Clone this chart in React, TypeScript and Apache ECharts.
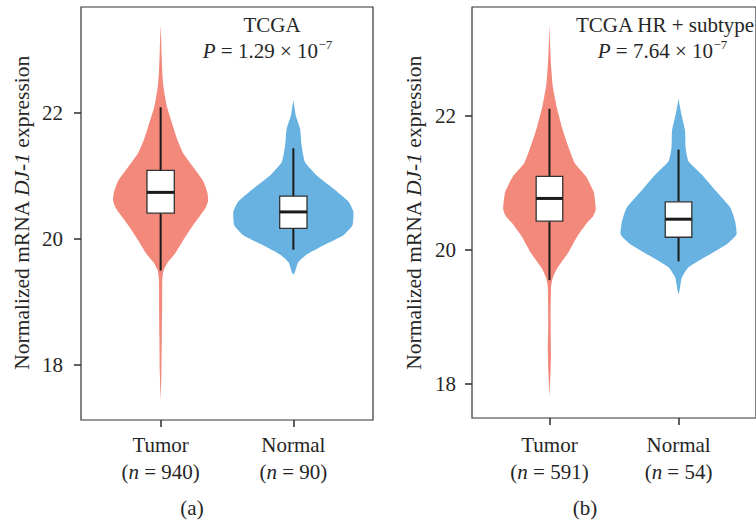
import React, { useEffect, useRef } from "react";
import * as echarts from "echarts";

// ---- data ----
const groups = ["Tumor", "Normal"];
const countsA = [940, 90];
const countsB = [591, 54];
const pValueA = "1.29";
const pValueB = "7.64";
const yTicks = [18, 20, 22];

// box stats: [whiskerLow, Q1, median, Q3, whiskerHigh]
const boxTumorA = [19.5, 20.41, 20.74, 21.09, 22.09];
const boxNormalA = [19.83, 20.17, 20.43, 20.68, 21.44];
const boxTumorB = [19.55, 20.43, 20.77, 21.1, 22.11];
const boxNormalB = [19.83, 20.19, 20.46, 20.72, 21.5];

// violin profiles: [value, relative density]
const violinTumorA = [
  [23.39, 0], [23.2, 0.01], [22.94, 0.02], [22.65, 0.035], [22.41, 0.06], [22.1, 0.13],
  [21.78, 0.26], [21.57, 0.35], [21.36, 0.47], [21.14, 0.68], [20.93, 0.88], [20.75, 0.97],
  [20.61, 0.99], [20.5, 0.94], [20.4, 0.85], [20.19, 0.65], [19.98, 0.47], [19.77, 0.3],
  [19.62, 0.14], [19.5, 0.06], [19.35, 0.035], [18.92, 0.032], [18.45, 0.025], [17.92, 0.018],
  [17.42, 0],
];
const violinNormalA = [
  [22.2, 0], [22.08, 0.025], [21.96, 0.05], [21.75, 0.14], [21.49, 0.17], [21.22, 0.24],
  [21.01, 0.48], [20.8, 0.83], [20.59, 1.15], [20.43, 1.25], [20.22, 1.23], [20.06, 1.04],
  [19.9, 0.63], [19.75, 0.27], [19.63, 0.1], [19.48, 0.035], [19.43, 0],
];
const violinTumorB = [
  [23.37, 0], [23.15, 0.01], [22.95, 0.02], [22.7, 0.04], [22.45, 0.07], [22.15, 0.15],
  [21.85, 0.26], [21.55, 0.4], [21.3, 0.54], [21.1, 0.78], [20.86, 0.95], [20.61, 0.99],
  [20.5, 0.93], [20.41, 0.81], [20.21, 0.6], [19.96, 0.4], [19.71, 0.15], [19.58, 0.07],
  [19.45, 0.035], [18.97, 0.025], [18.47, 0.033], [18.21, 0.025], [17.81, 0],
];
const violinNormalB = [
  [22.26, 0], [22.14, 0.03], [22.03, 0.06], [21.78, 0.14], [21.53, 0.15], [21.33, 0.21],
  [21.13, 0.49], [20.88, 0.8], [20.63, 1.11], [20.43, 1.21], [20.23, 1.24], [20.09, 1.04],
  [19.89, 0.56], [19.74, 0.21], [19.59, 0.07], [19.39, 0.02], [19.34, 0],
];

// ---- styles ----
const FONT = "'Liberation Serif', 'DejaVu Serif', serif";
const FS = 21;
const TXT = "#262626";
const LINE = "#2b2b2b";
const COLORS = ["#F3897B", "#67B2E0"];
const VIOLIN_SCALE = 0.362; // category units per density unit
const BOX_HALF = 0.103;

function makePanel(
  gridIndex: number,
  violins: number[][][],
  boxes: number[][],
  counts: number[]
) {
  const violinData = violins.map((v, i) => [i + 1, v[0][0], v[v.length - 1][0]]);
  const boxData = boxes.map((b, i) => [i + 1, ...b]);

  const violinSeries = {
    type: "custom",
    xAxisIndex: gridIndex,
    yAxisIndex: gridIndex,
    data: violinData,
    encode: { x: 0, y: [1, 2] },
    silent: true,
    renderItem: (params: any, api: any) => {
      const x = api.value(0);
      const prof = violins[params.dataIndex];
      const left = prof.map(([y, d]) => api.coord([x - d * VIOLIN_SCALE, y]));
      const right = prof
        .slice()
        .reverse()
        .map(([y, d]) => api.coord([x + d * VIOLIN_SCALE, y]));
      return {
        type: "polygon",
        shape: { points: left.concat(right), smooth: 0.15 },
        style: { fill: COLORS[params.dataIndex], stroke: null },
      };
    },
  };

  const boxSeries = {
    type: "custom",
    xAxisIndex: gridIndex,
    yAxisIndex: gridIndex,
    data: boxData,
    encode: { x: 0, y: [1, 2, 3, 4, 5] },
    silent: true,
    z: 5,
    renderItem: (params: any, api: any) => {
      const x = api.value(0);
      const lo = api.coord([x, api.value(1)]);
      const q1 = api.coord([x - BOX_HALF, api.value(2)]);
      const med = api.coord([x, api.value(3)]);
      const q3 = api.coord([x + BOX_HALF, api.value(4)]);
      const hi = api.coord([x, api.value(5)]);
      return {
        type: "group",
        children: [
          {
            type: "line",
            shape: { x1: hi[0], y1: hi[1], x2: hi[0], y2: q3[1] },
            style: { stroke: "#1a1a1a", lineWidth: 2 },
          },
          {
            type: "line",
            shape: { x1: lo[0], y1: lo[1], x2: lo[0], y2: q1[1] },
            style: { stroke: "#1a1a1a", lineWidth: 2 },
          },
          {
            type: "rect",
            shape: { x: q1[0], y: q3[1], width: q3[0] - q1[0], height: q1[1] - q3[1] },
            style: { fill: "#ffffff", stroke: "#333333", lineWidth: 1.3 },
          },
          {
            type: "line",
            shape: { x1: q1[0], y1: med[1], x2: q3[0], y2: med[1] },
            style: { stroke: "#1a1a1a", lineWidth: 3 },
          },
        ],
      };
    },
  };

  const xAxis = {
    type: "value",
    gridIndex,
    min: 0.4,
    max: 2.6,
    splitLine: { show: false },
    axisLine: { show: false },
    axisTick: {
      show: true,
      customValues: [1, 2],
      length: 7,
      lineStyle: { color: LINE, width: 1.5 },
    },
    axisLabel: {
      customValues: [1, 2],
      margin: gridIndex === 0 ? 11 : 13,
      formatter: (v: number) => {
        const i = Math.round(v) - 1;
        return `{a|${groups[i]}}\n{a|(}{i|n}{a| = ${counts[i]})}`;
      },
      rich: {
        a: { fontFamily: FONT, fontSize: FS, color: TXT, lineHeight: 27 },
        i: { fontFamily: FONT, fontSize: FS, color: TXT, lineHeight: 27, fontStyle: "italic" },
      },
    },
  };

  return { violinSeries, boxSeries, xAxis };
}

export default function App() {
  const ref = useRef<HTMLDivElement>(null);

  useEffect(() => {
    if (!ref.current) return;
    const chart = echarts.init(ref.current, undefined, { renderer: "svg" });

    const pa = makePanel(0, [violinTumorA, violinNormalA], [boxTumorA, boxNormalA], countsA);
    const pb = makePanel(1, [violinTumorB, violinNormalB], [boxTumorB, boxNormalB], countsB);

    const yAxisBase = (gridIndex: number, min: number, max: number, margin: number) => ({
      type: "value",
      gridIndex,
      min,
      max,
      splitLine: { show: false },
      axisLine: { show: false },
      axisTick: {
        show: true,
        customValues: yTicks,
        length: 7,
        lineStyle: { color: LINE, width: 1.5 },
      },
      axisLabel: {
        customValues: yTicks,
        margin,
        fontFamily: FONT,
        fontSize: FS,
        color: TXT,
      },
    });

    const yName = (x: number) => ({
      type: "text",
      x,
      y: 213,
      rotation: Math.PI / 2,
      style: {
        text: "{a|Normalized mRNA }{i|DJ-1}{a| expression}",
        align: "center",
        verticalAlign: "middle",
        rich: {
          a: { fontFamily: FONT, fontSize: 21.5, fill: TXT },
          i: { fontFamily: FONT, fontSize: 21.5, fill: TXT, fontStyle: "italic" },
        },
      },
    });

    const plain = (text: string, x: number, y: number, align = "center") => ({
      type: "text",
      x,
      y,
      style: {
        text,
        align,
        verticalAlign: "middle",
        fontFamily: FONT,
        fontSize: FS,
        fill: TXT,
      },
    });

    const pLine = (value: string, xEnd: number) => [
      {
        type: "text",
        x: xEnd,
        y: 51,
        style: {
          text: `{i|P}{a| = ${value} × 10}`,
          align: "right",
          verticalAlign: "middle",
          rich: {
            a: { fontFamily: FONT, fontSize: FS, fill: TXT },
            i: { fontFamily: FONT, fontSize: FS, fill: TXT, fontStyle: "italic" },
          },
        },
      },
      {
        type: "text",
        x: xEnd + 0.5,
        y: 44.5,
        style: {
          text: "−7",
          align: "left",
          verticalAlign: "middle",
          fontFamily: FONT,
          fontSize: 13,
          fill: TXT,
        },
      },
    ];

    chart.setOption({
      animation: false,
      backgroundColor: "#ffffff",
      grid: [
        {
          left: 81,
          top: 7,
          width: 292,
          height: 413,
          show: true,
          borderColor: "#333333",
          borderWidth: 1.2,
          backgroundColor: "transparent",
        },
        {
          left: 472,
          top: 7,
          width: 292,
          height: 411,
          show: true,
          borderColor: "#333333",
          borderWidth: 1.2,
          backgroundColor: "transparent",
        },
      ],
      xAxis: [pa.xAxis, pb.xAxis],
      yAxis: [yAxisBase(0, 17.13, 23.68, 18), yAxisBase(1, 17.49, 23.63, 16)],
      series: [pa.violinSeries, pa.boxSeries, pb.violinSeries, pb.boxSeries],
      graphic: [
        yName(22),
        yName(414),
        plain("TCGA", 272, 24.5),
        ...pLine(pValueA, 318),
        plain("TCGA HR + subtype", 665, 24.5),
        ...pLine(pValueB, 713),
        plain("(a)", 192, 508),
        plain("(b)", 585, 508),
      ],
    });

    return () => chart.dispose();
  }, []);

  return (
    <div
      ref={ref}
      style={{ position: "fixed", left: 0, top: 0, width: 756, height: 526 }}
    />
  );
}
